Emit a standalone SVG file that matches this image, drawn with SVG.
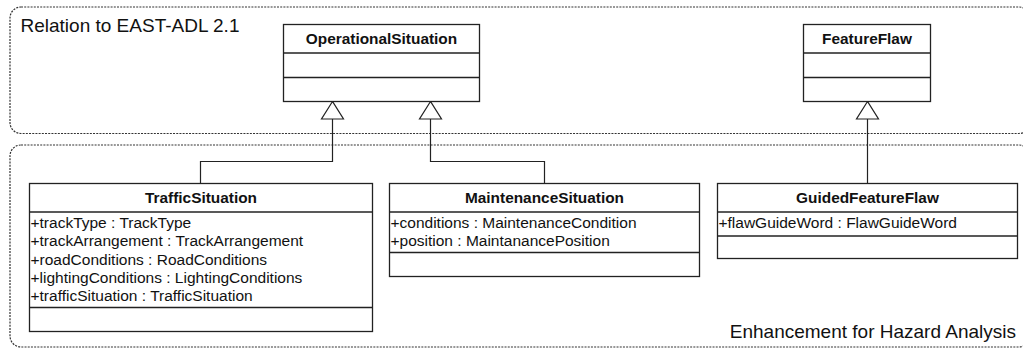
<svg xmlns="http://www.w3.org/2000/svg" width="1023" height="348" viewBox="0 0 1023 348">
  <defs>
    <style>
      .frame { fill: none; stroke: #333; stroke-width: 1.2; stroke-dasharray: 2 1.2; }
      .box { fill: #fff; stroke: #222; stroke-width: 1.3; }
      .sep { stroke: #222; stroke-width: 1.3; }
      .edge { fill: none; stroke: #222; stroke-width: 1.2; }
      .tri { fill: #fff; stroke: #222; stroke-width: 1.2; }
      .title { font-family: "Liberation Sans", Arial, sans-serif; font-size: 15.4px; font-weight: bold; fill: #111; text-anchor: middle; }
      .attr { font-family: "Liberation Sans", Arial, sans-serif; font-size: 15.5px; fill: #111; }
      .pkg { font-family: "Liberation Sans", Arial, sans-serif; font-size: 19px; fill: #111; }
    </style>
  </defs>

  <rect width="1023" height="348" fill="#fff"/>

  <!-- package frames -->
  <g id="frame-east-adl">
    <rect class="frame" x="10" y="7" width="1020" height="126.5" rx="11" ry="11"/>
    <text class="pkg" x="20.5" y="31.5">Relation to EAST-ADL 2.1</text>
  </g>
  <g id="frame-hazard">
    <rect class="frame" x="10" y="145" width="1020" height="202" rx="11" ry="11"/>
    <text class="pkg" x="1016" y="337.5" text-anchor="end">Enhancement for Hazard Analysis</text>
  </g>

  <!-- generalization connectors -->
  <g id="connectors">
    <polyline class="edge" points="200.5,183.5 200.5,161.5 332.5,161.5 332.5,119"/>
    <polygon class="tri" points="332.5,101.5 321.5,119 343.5,119"/>
    <polyline class="edge" points="544.5,183.5 544.5,161.5 430.5,161.5 430.5,119"/>
    <polygon class="tri" points="430.5,101.5 419.5,119 441.5,119"/>
    <line class="edge" x1="867.5" y1="183.5" x2="867.5" y2="119"/>
    <polygon class="tri" points="867.5,101.5 856.5,119 878.5,119"/>
  </g>

  <!-- classes -->
  <g id="OperationalSituation">
    <rect class="box" x="283.5" y="24.5" width="196" height="77"/>
    <line class="sep" x1="283.5" y1="53" x2="479.5" y2="53"/>
    <line class="sep" x1="283.5" y1="77.5" x2="479.5" y2="77.5"/>
    <text class="title" x="381.5" y="44">OperationalSituation</text>
  </g>

  <g id="FeatureFlaw">
    <rect class="box" x="803.5" y="24.5" width="127" height="77"/>
    <line class="sep" x1="803.5" y1="53" x2="930.5" y2="53"/>
    <line class="sep" x1="803.5" y1="77.5" x2="930.5" y2="77.5"/>
    <text class="title" x="867" y="44">FeatureFlaw</text>
  </g>

  <g id="TrafficSituation">
    <rect class="box" x="29.5" y="183.5" width="343" height="148"/>
    <line class="sep" x1="29.5" y1="212" x2="372.5" y2="212"/>
    <line class="sep" x1="29.5" y1="307.5" x2="372.5" y2="307.5"/>
    <text class="title" x="201" y="203">TrafficSituation</text>
    <text class="attr" x="30.5" y="227.8">+trackType : TrackType</text>
    <text class="attr" x="30.5" y="246.2">+trackArrangement : TrackArrangement</text>
    <text class="attr" x="30.5" y="264.6">+roadConditions : RoadConditions</text>
    <text class="attr" x="30.5" y="283">+lightingConditions : LightingConditions</text>
    <text class="attr" x="30.5" y="301.4">+trafficSituation : TrafficSituation</text>
  </g>

  <g id="MaintenanceSituation">
    <rect class="box" x="389.5" y="183.5" width="310" height="93"/>
    <line class="sep" x1="389.5" y1="212" x2="699.5" y2="212"/>
    <line class="sep" x1="389.5" y1="252.5" x2="699.5" y2="252.5"/>
    <text class="title" x="544.5" y="203">MaintenanceSituation</text>
    <text class="attr" x="390.5" y="227.8">+conditions : MaintenanceCondition</text>
    <text class="attr" x="390.5" y="246.2">+position : MaintanancePosition</text>
  </g>

  <g id="GuidedFeatureFlaw">
    <rect class="box" x="717.5" y="183.5" width="300" height="75"/>
    <line class="sep" x1="717.5" y1="212" x2="1017.5" y2="212"/>
    <line class="sep" x1="717.5" y1="236" x2="1017.5" y2="236"/>
    <text class="title" x="867.5" y="203">GuidedFeatureFlaw</text>
    <text class="attr" x="718.5" y="227.8">+flawGuideWord : FlawGuideWord</text>
  </g>
</svg>
